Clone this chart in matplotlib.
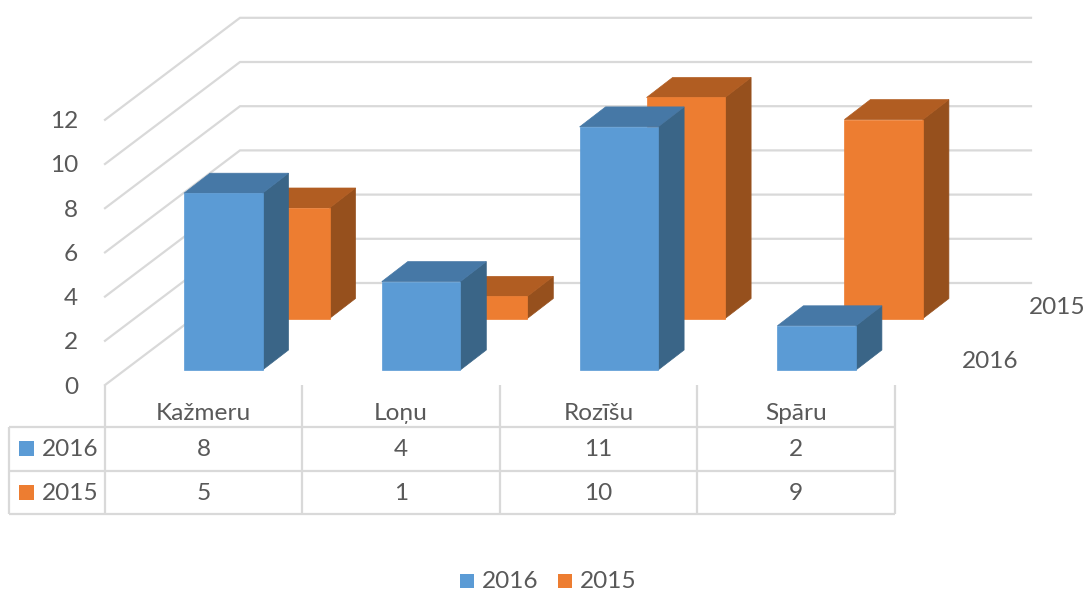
import matplotlib
matplotlib.use('Agg')
import matplotlib.pyplot as plt
from matplotlib.patches import Polygon, Rectangle

categories = ['Kažmeru', 'Loņu', 'Rozīšu', 'Spāru']
series_names = ['2016', '2015']
values_2016 = [8, 4, 11, 2]
values_2015 = [5, 1, 10, 9]
y_ticks = [0, 2, 4, 6, 8, 10, 12]

W, H = 1090, 592
PX_X = 197.8   # px per category
PX_Y = 22.1    # px per value unit
X0, Y0 = 184.0, 385.0   # px position of x=0 / y=0 on the front plane

GRID = '#D9D9D9'
TEXT = '#595959'
BLUE = ('#5B9BD5', '#3A6587', '#4678A6')
ORANGE = ('#ED7D31', '#96501D', '#B15D22')
FS = 17.6

plt.rcParams['font.family'] = ['Lato', 'DejaVu Sans']

fig = plt.figure(figsize=(W / 100, H / 100), dpi=100)

# chart axes: data units, scaled so they land on the reference pixels
ax = fig.add_axes([0, 0, 1, 1])
ax.set_xlim(-X0 / PX_X, (W - X0) / PX_X)
ax.set_ylim((Y0 - H) / PX_Y, Y0 / PX_Y)
ax.axis('off')

# pixel axes for table and legend
pad = fig.add_axes([0, 0, 1, 1], facecolor='none')
pad.set_xlim(0, W)
pad.set_ylim(H, 0)
pad.axis('off')


def dx(px):
    return px / PX_X


def dy(px):
    return px / PX_Y


def draw_bar(i, val, off_x, off_y, cols, z):
    w, sx, sy = dx(78.5), dx(26), dy(20)
    x = i + dx(off_x)
    b = dy(off_y)
    t = b + val
    ax.add_patch(Polygon([(x + w, b), (x + w + sx, b + sy), (x + w + sx, t + sy), (x + w, t)],
                         fc=cols[1], ec=cols[1], lw=0.5, zorder=z))
    ax.add_patch(Polygon([(x, t), (x + w, t), (x + w + sx, t + sy), (x + sx, t + sy)],
                         fc=cols[2], ec=cols[2], lw=0.5, zorder=z))
    ax.add_patch(Rectangle((x, b), w, val, fc=cols[0], ec=cols[0], lw=0.5, zorder=z))


# walls
wall_left = dx(105 - X0)
wall_back = dx(240 - X0)
wall_right = dx(1031 - X0)
for v in y_ticks:
    ax.plot([wall_left, wall_back, wall_right], [v, v + dy(102), v + dy(102)],
            color=GRID, lw=1.6, zorder=1, solid_joinstyle='miter')
    ax.text(dx(78 - X0), v - dy(2), str(v), ha='right', va='center', fontsize=FS, color=TEXT)

# bars, back row first inside each category
for i in range(len(categories)):
    draw_bar(i, values_2015[i], 67, 66.5, ORANGE, 2 + i * 2)
    draw_bar(i, values_2016[i], 0, 15, BLUE, 3 + i * 2)

# depth axis labels
pad.text(1086, 308, series_names[1], ha='right', va='center', fontsize=FS, color=TEXT)
pad.text(1018, 361, series_names[0], ha='right', va='center', fontsize=FS, color=TEXT)

# data table
col_x = [105, 302, 500, 697, 895]
row_y = [427, 471, 514]
for y in row_y:
    pad.plot([9, 895], [y, y], color=GRID, lw=1.6, solid_capstyle='butt')
pad.plot([9, 9], [427, 514], color=GRID, lw=1.6, solid_capstyle='butt')
for x in col_x:
    pad.plot([x, x], [385, 514], color=GRID, lw=1.6, solid_capstyle='butt')

for j, cat in enumerate(categories):
    cx = (col_x[j] + col_x[j + 1]) / 2
    pad.text(cx, 413.5, cat, ha='center', va='center', fontsize=FS, color=TEXT)
    pad.text(cx, 450, str(values_2016[j]), ha='center', va='center', fontsize=FS, color=TEXT)
    pad.text(cx, 494, str(values_2015[j]), ha='center', va='center', fontsize=FS, color=TEXT)

for name, col, y in zip(series_names, [BLUE[0], ORANGE[0]], [449, 493]):
    pad.add_patch(Rectangle((19, y - 8), 15, 15, fc=col, ec='none'))
    pad.text(98.5, y + 1, name, ha='right', va='center', fontsize=FS, color=TEXT)

# legend
for name, col, x in zip(series_names, [BLUE[0], ORANGE[0]], [460, 558]):
    pad.add_patch(Rectangle((x, 574), 14, 14, fc=col, ec='none'))
    pad.text(x + 22, 582, name, ha='left', va='center', fontsize=FS, color=TEXT)

fig.savefig('out.png', dpi=100)
